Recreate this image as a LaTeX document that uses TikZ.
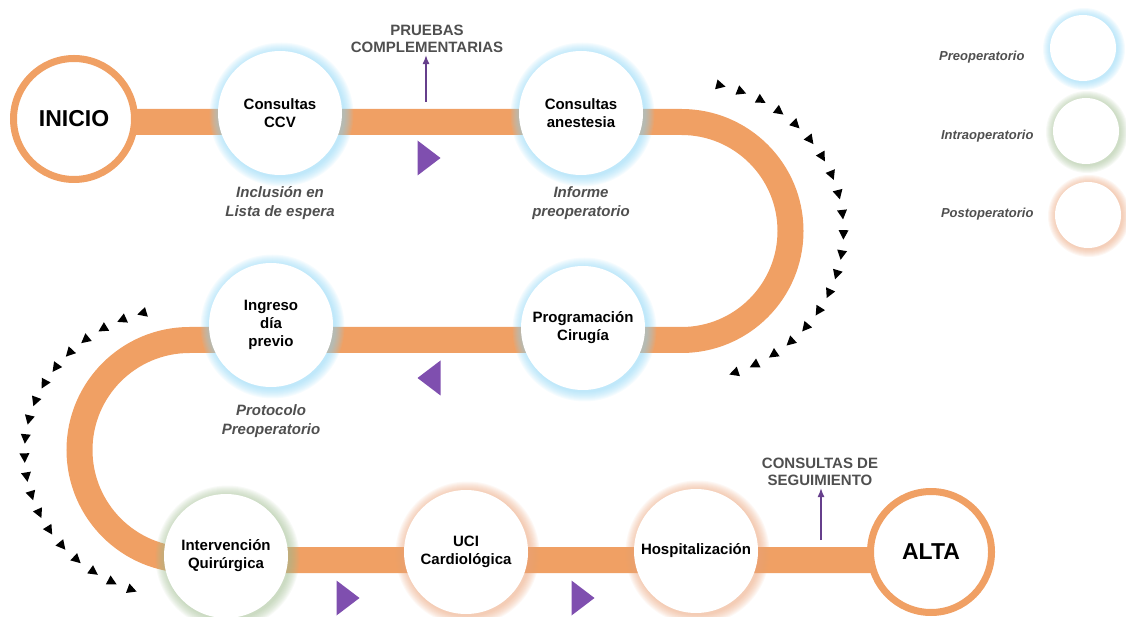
\documentclass[tikz,border=0pt]{standalone}
\usepackage{fontspec}
\setmainfont{Liberation Sans}
\usetikzlibrary{positioning,arrows.meta,calc}

\definecolor{bandorange}{HTML}{F0A064}
\definecolor{preop}{HTML}{8ED6F6}
\definecolor{intraop}{HTML}{A3BF94}
\definecolor{postop}{HTML}{EBA57C}
\definecolor{flowviolet}{HTML}{7F4FAF}
\definecolor{notegrey}{HTML}{4F4F4F}

\pgfdeclarelayer{band}
\pgfdeclarelayer{glow}
\pgfsetlayers{band,glow,main}

\begin{document}
\begin{tikzpicture}[
  x=1pt, y=1pt,
  stage/.style={circle, fill=white, minimum size=124pt, inner sep=0pt, align=center, font=\bfseries\fontsize{15}{18}\selectfont},
  endpt/.style={circle, fill=white, draw=bandorange, line width=7pt, minimum size=121pt, font=\bfseries\fontsize{23}{26}\selectfont},
  note/.style={align=center, text=notegrey, font=\bfseries\itshape\fontsize{15}{19}\selectfont},
  toplabel/.style={align=center, text=notegrey, font=\bfseries\fontsize{15}{17}\selectfont, inner sep=2pt},
  legendtxt/.style={anchor=east, text=notegrey, font=\bfseries\itshape\fontsize{13}{15}\selectfont},
  bubble/.style={circle, fill=white, minimum size=66pt, inner sep=0pt},
  band/.style={draw=bandorange, line width=26pt},
  arr/.style={-{Latex[length=9pt,width=7pt]}, draw=flowviolet!80!black, line width=1.5pt},
  flowtip/.pic={\fill[flowviolet] (-11.5,17.5) -- (11.5,0) -- (-11.5,-17.5) -- cycle;},
  dirtip/.pic={\fill[black] (-4.5,5) -- (5,0) -- (-4.5,-5) -- cycle;}
]
\useasboundingbox (0,0) rectangle (1126,616);

% ---------- Stages ----------
\node[endpt] (inicio) at (74,497) {INICIO};
\node[stage] (ccv)     at (280,503) {Consultas\\CCV};
\node[stage] (anest)   at (581,503) {Consultas\\anestesia};
\node[stage] (prog)    at (583,288) {Programación\\Cirugía};
\node[stage] (ingreso) at (271,291) {Ingreso\\día\\previo};
\node[stage] (cirugia) at (226,60)  {Intervención\\Quirúrgica};
\node[stage] (uci)     at (466,64)  {UCI\\Cardiológica};
\node[stage] (hosp)    at (696,65)  {Hospitalización};
\node[endpt] (alta)    at (931,64)  {ALTA};

% ---------- Notes ----------
\node[note, below=8pt of ccv]    (inclusion) {Inclusión en\\Lista de espera};
\node[note, below=8pt of anest]  (informe)   {Informe\\preoperatorio};
\node[note, below=14pt of ingreso] (protocolo) {Protocolo\\Preoperatorio};

\node[toplabel] (pruebas)     at (427,577) {PRUEBAS\\COMPLEMENTARIAS};
\node[toplabel] (seguimiento) at (820,144) {CONSULTAS DE\\SEGUIMIENTO};
\coordinate (pruebasfoot) at (426,514);
\coordinate (seguimfoot)  at (821,76);
\draw[arr] (pruebasfoot) -- (pruebasfoot |- pruebas.south);
\draw[arr] (seguimfoot) -- (seguimfoot |- seguimiento.south);

% ---------- Legend ----------
\node[bubble] (lpre)   at (1083,568) {};
\node[bubble] (lintra) at (1086,485) {};
\node[bubble] (lpost)  at (1088,401) {};
\node[legendtxt] (tpre)   at (1028,559) {Preoperatorio};
\node[legendtxt] (tintra) at (1037,480) {Intraoperatorio};
\node[legendtxt] (tpost)  at (1037,402) {Postoperatorio};

% ---------- Path band ----------
\coordinate (turnr) at (681.5,494);
\coordinate (turnl) at (189.5,276);
\begin{pgfonlayer}{band}
\draw[band] (inicio.center |- turnr) -- (turnr) arc[start angle=90, end angle=-90, radius=109pt]
  -- (turnl) arc[start angle=90, end angle=270, radius=110pt] -- (alta.center |- 0,56);
\end{pgfonlayer}

% glow round the circles
\begin{pgfonlayer}{glow}
\foreach \n/\c in {ccv/preop, anest/preop, prog/preop, ingreso/preop, cirugia/intraop, uci/postop, hosp/postop}
  \foreach \k in {1,...,10}
    \fill[\c, opacity=0.08] ($(\n.center)+(1.5,-1.5)$) circle[radius=62pt+\k pt];
\foreach \n/\c in {lpre/preop, lintra/intraop, lpost/postop}
  \foreach \k in {1,...,8}
    \fill[\c, opacity=0.09] ($(\n.center)+(1,-1)$) circle[radius=33pt+\k pt];
\end{pgfonlayer}

% ---------- Direction marks ----------
\pic at (429,458) {flowtip};
\pic[rotate=180] at (429,238) {flowtip};
\pic at (348,18) {flowtip};
\pic at (583,18) {flowtip};

\foreach \i [evaluate=\i as \t using 76-\i*7.74] in {0,...,19}
  \pic[rotate=\t-90] at ({681.5+162*cos(\t)},{385+150*sin(\t)}) {dirtip};
\foreach \i [evaluate=\i as \t using 106.7+\i*7.52] in {0,...,19}
  \pic[rotate=\t+90] at ({189.5+165*cos(\t)},{163+146*sin(\t)}) {dirtip};

\end{tikzpicture}
\end{document}
